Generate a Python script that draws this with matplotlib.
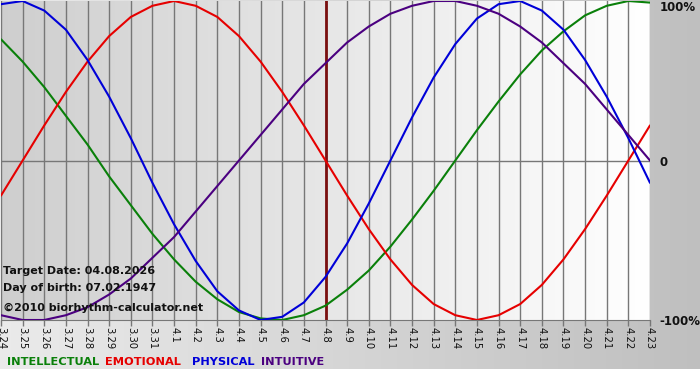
#!/usr/bin/env python3
"""
Biorhythm chart, 3.24 - 4.23 around target date 4.8
"""

import numpy as np
import matplotlib.pyplot as plt

# Day labels (month.day)
dates = ['3.24', '3.25', '3.26', '3.27', '3.28', '3.29', '3.30', '3.31',
         '4.1', '4.2', '4.3', '4.4', '4.5', '4.6', '4.7', '4.8', '4.9',
         '4.10', '4.11', '4.12', '4.13', '4.14', '4.15', '4.16', '4.17',
         '4.18', '4.19', '4.20', '4.21', '4.22', '4.23']
target_day = '4.8'

# Curve values, -1 .. 1, one per day
intellectual = [0.76, 0.62, 0.46, 0.28, 0.10, -0.10, -0.28, -0.46, -0.62, -0.76,
                -0.87, -0.95, -0.99, -1.00, -0.97, -0.91, -0.81, -0.69, -0.54,
                -0.37, -0.19, 0.00, 0.19, 0.37, 0.54, 0.69, 0.81, 0.91, 0.97,
                1.00, 0.99]
emotional = [-0.22, 0.00, 0.22, 0.43, 0.62, 0.78, 0.90, 0.97, 1.00, 0.97, 0.90,
             0.78, 0.62, 0.43, 0.22, 0.00, -0.22, -0.43, -0.62, -0.78, -0.90,
             -0.97, -1.00, -0.97, -0.90, -0.78, -0.62, -0.43, -0.22, 0.00, 0.22]
physical = [0.98, 1.00, 0.94, 0.82, 0.63, 0.40, 0.14, -0.14, -0.40, -0.63, -0.82,
            -0.94, -1.00, -0.98, -0.89, -0.73, -0.52, -0.27, 0.00, 0.27, 0.52,
            0.73, 0.89, 0.98, 1.00, 0.94, 0.82, 0.63, 0.40, 0.14, -0.14]
intuitive = [-0.97, -1.00, -1.00, -0.97, -0.92, -0.84, -0.74, -0.61, -0.48,
             -0.32, -0.16, 0.00, 0.16, 0.32, 0.48, 0.61, 0.74, 0.84, 0.92, 0.97,
             1.00, 1.00, 0.97, 0.92, 0.84, 0.74, 0.61, 0.48, 0.32, 0.16, 0.00]

series = [
    ('INTELLECTUAL', intellectual, '#0a800a'),
    ('EMOTIONAL', emotional, '#e60000'),
    ('PHYSICAL', physical, '#0000d8'),
    ('INTUITIVE', intuitive, '#4b0080'),
]

W, H = 700, 380
fig = plt.figure(figsize=(W / 100, H / 100), dpi=100)

# Figure background: light -> darker gray, white strip at the bottom
bg = fig.add_axes([0, 0, 1, 1], zorder=-10)
grad = np.linspace(0.92, 0.75, 256)
img = np.tile(grad, (64, 1))
bg.imshow(np.dstack([img] * 3), aspect='auto', extent=(0, 1, 0, 1),
          interpolation='bilinear')
bg.axvspan(0, 1, ymin=0, ymax=11 / H, color='white', lw=0)
bg.set_xlim(0, 1)
bg.set_ylim(0, 1)
bg.axis('off')

# Main plot
ax = fig.add_axes([1 / W, 60 / H, 649 / W, 319 / H])
x = np.arange(len(dates))
n = len(dates) - 1

pgrad = np.linspace(0.81, 1.0, 256)
pimg = np.tile(pgrad, (16, 1))
ax.imshow(np.dstack([pimg] * 3), aspect='auto', extent=(0, n, -1, 1),
          interpolation='bilinear', zorder=0)

for xi in x:
    ax.axvline(xi, color='#777777', lw=1.0, zorder=1)
ax.axhline(0, color='#777777', lw=1.0, zorder=1)

ti = dates.index(target_day)
ax.axvline(ti, color='#7a1010', lw=2.0, zorder=2)

for name, vals, col in series:
    ax.plot(x, vals, color=col, lw=1.5, zorder=3,
            solid_joinstyle='round', solid_capstyle='round')

ax.set_xlim(0, n)
ax.set_ylim(-1, 1)
for s in ['top', 'left', 'right']:
    ax.spines[s].set_visible(False)
ax.spines['bottom'].set_color('#777777')

ax.set_xticks(x)
ax.set_xticklabels(dates, rotation=270, fontsize=7.2, color='#111111')
ax.tick_params(axis='x', length=4, width=1, color='#777777', pad=1)

ax.yaxis.tick_right()
ax.set_yticks([-1, 0, 1])
ylabels = ax.set_yticklabels(['-100%', '0', '100%'], fontsize=8.5,
                             fontweight='bold', color='#111111')
ylabels[2].set_verticalalignment('top')
ax.tick_params(axis='y', length=0, pad=7)

# Info text
info = ['Target Date: 04.08.2026', 'Day of birth: 07.02.1947',
        '\u00a92010 biorhythm-calculator.net']
for i, t in enumerate(info):
    fig.text(3 / W, 1 - (271 + 17 * i + (3 if i == 2 else 0)) / H, t,
             fontsize=8, fontweight='bold', color='#111111', va='center')

# Legend text
lx = 7
gaps = [6, 11, 7, 0]
for (name, vals, col), g in zip(series, gaps):
    t = fig.text(lx / W, 1 - 362 / H, name, fontsize=8.2, fontweight='bold',
                 color=col, va='center')
    fig.canvas.draw()
    bb = t.get_window_extent()
    lx = bb.x1 + g

fig.savefig('out.png', dpi=100)
